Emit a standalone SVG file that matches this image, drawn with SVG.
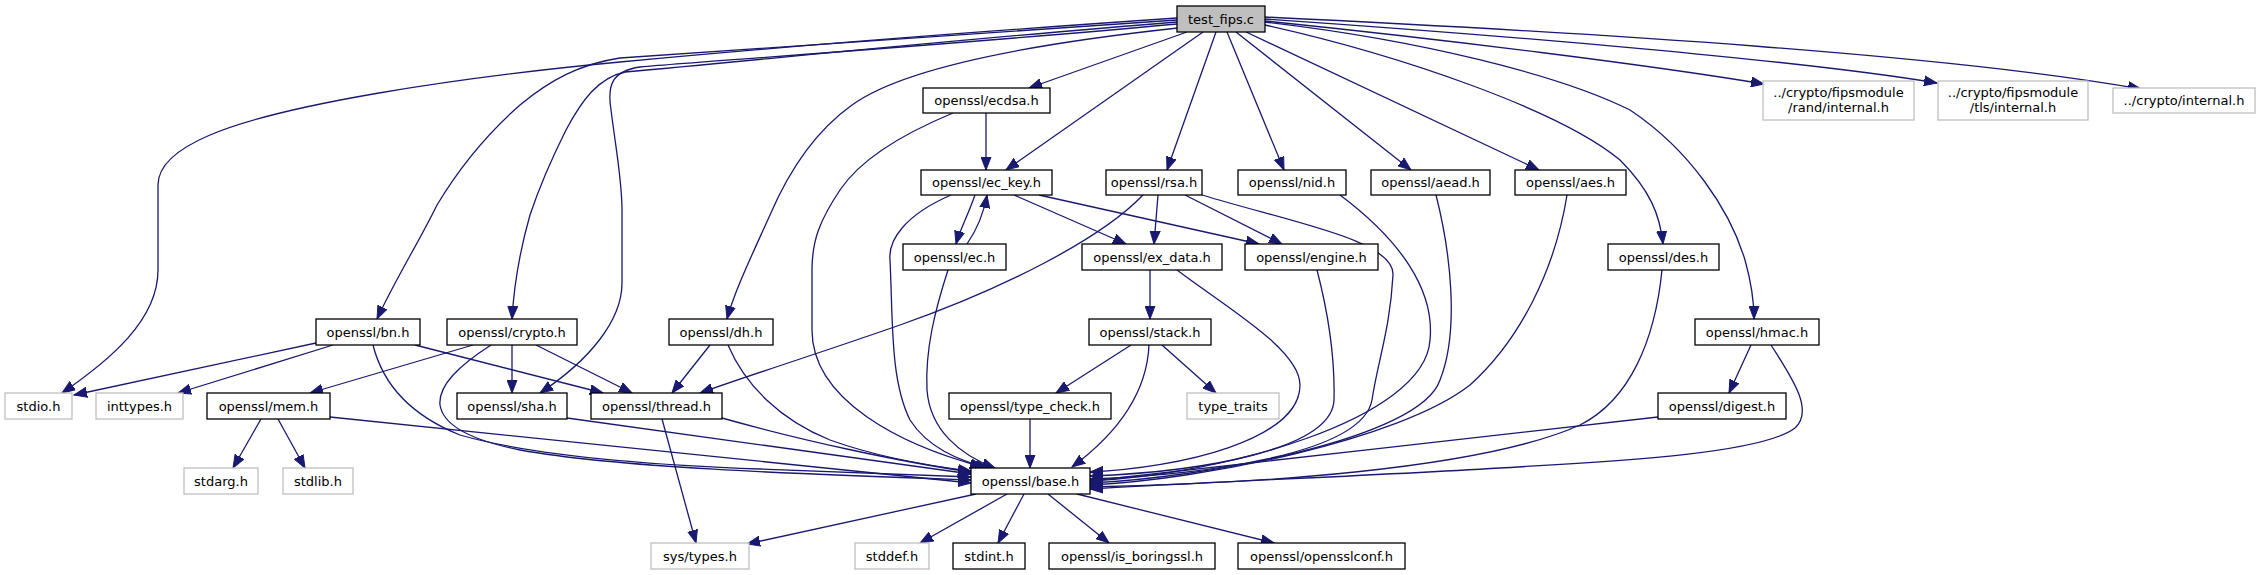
<svg xmlns="http://www.w3.org/2000/svg" width="2260" height="575" viewBox="0 0 2260 575">
<style>
.n rect{fill:#fff;stroke:#000;stroke-width:1.3}
.n.g rect{stroke:#bfbfbf}
.n.root rect{fill:#bfbfbf}
text{font-family:"DejaVu Sans","Liberation Sans",sans-serif;font-size:13px;text-anchor:middle;fill:#000}
#edges path{fill:none;stroke:#191970;stroke-width:1.3;marker-end:url(#arr)}
</style>
<defs>
<marker id="arr" markerUnits="userSpaceOnUse" markerWidth="14" markerHeight="11" viewBox="0 0 14 11" refX="13" refY="5.5" orient="auto">
<path d="M0,0.5 L13,5.5 L0,10.5 z" fill="#191970" stroke="#191970" stroke-width="1"/>
</marker>
</defs>
<rect width="2260" height="575" fill="#fff"/>
<g id="edges">
<!-- test_fips.c -->
<path d="M1177,18 C1000,30 800,45 620,62 C450,78 280,105 210,135 C170,152 158,170 158,185 L158,270 C158,320 110,360 62,393"/>
<path d="M1177,20 C950,35 760,48 620,58 C580,64 550,80 520,105 C480,140 452,180 437,205 C420,240 395,280 377,319"/>
<path d="M1177,22 C950,40 760,60 625,72 C598,78 582,100 566,130 C546,170 535,200 530,215 C520,250 514,285 512,319"/>
<path d="M1177,24 C950,45 720,60 640,67 C612,71 607,85 611,110 C616,150 622,180 622,210 L622,283 C622,320 590,360 540,393"/>
<path d="M1178,28 C1020,45 900,70 852,105 C810,135 785,180 770,215 C752,255 735,290 727,319"/>
<path d="M1187,32 L1029,88"/>
<path d="M1203,32 L1006,170"/>
<path d="M1216,32 L1167,170"/>
<path d="M1227,32 L1284,170"/>
<path d="M1236,32 L1411,170"/>
<path d="M1246,32 L1539,170"/>
<path d="M1265,25 C1400,55 1560,110 1620,160 C1650,190 1660,215 1663,244"/>
<path d="M1265,22 C1420,40 1560,75 1630,110 C1690,150 1730,210 1745,260 C1752,285 1754,300 1754,319"/>
<path d="M1265,21 C1450,40 1650,65 1764,84"/>
<path d="M1265,19 C1500,35 1800,60 1937,83"/>
<path d="M1265,17 C1600,33 1950,55 2141,89"/>
<!-- ecdsa -->
<path d="M986,113 L986,170"/>
<path d="M953,113 C900,135 860,160 840,190 C820,220 812,240 812,270 L812,330 C812,400 900,445 983,467"/>
<!-- ec_key -->
<path d="M975,195 C968,215 960,230 956,244"/>
<path d="M1014,195 L1126,244"/>
<path d="M1039,195 L1259,244"/>
<path d="M951,195 C905,215 888,240 890,260 C893,320 890,380 910,420 C928,448 958,460 988,468"/>
<!-- ec -->
<path d="M967,244 C978,228 984,212 987,195"/>
<path d="M948,270 C935,310 925,350 927,390 C930,430 960,455 995,468"/>
<!-- rsa -->
<path d="M1158,195 L1154,244"/>
<path d="M1185,195 L1282,244"/>
<path d="M1143,195 C1100,240 1000,290 900,325 C820,353 750,375 700,393"/>
<path d="M1202,195 C1290,222 1395,240 1393,275 C1390,330 1378,360 1372,400 C1362,455 1200,475 1090,479"/>
<!-- nid, aead, aes -->
<path d="M1340,195 C1400,240 1435,290 1430,340 C1425,420 1220,475 1090,481"/>
<path d="M1436,195 C1450,250 1460,330 1440,380 C1420,440 1200,478 1090,483"/>
<path d="M1567,195 C1555,270 1520,340 1470,385 C1400,440 1200,480 1090,485"/>
<!-- ex_data, engine, des -->
<path d="M1150,270 L1150,319"/>
<path d="M1177,270 C1230,310 1300,350 1300,385 C1300,440 1180,468 1090,472"/>
<path d="M1317,270 C1330,320 1335,360 1334,400 C1332,450 1200,472 1090,476"/>
<path d="M1662,270 C1655,340 1630,400 1580,425 C1480,470 1250,484 1090,487"/>
<!-- bn -->
<path d="M316,343 L74,395"/>
<path d="M333,345 L178,393"/>
<path d="M415,345 L603,393"/>
<path d="M373,345 C383,385 410,415 460,435 C540,458 680,466 760,469 C850,472 920,475 971,477"/>
<!-- crypto -->
<path d="M473,345 L310,393"/>
<path d="M512,345 L512,393"/>
<path d="M536,345 L632,393"/>
<path d="M491,345 C460,365 438,385 440,405 C443,425 470,440 520,450 C620,468 800,474 971,480"/>
<!-- dh -->
<path d="M710,345 L672,393"/>
<path d="M728,345 C745,385 780,420 830,440 C880,458 930,466 971,471"/>
<!-- stack -->
<path d="M1131,345 L1056,393"/>
<path d="M1162,345 L1216,393"/>
<path d="M1149,345 C1147,390 1122,430 1072,467"/>
<!-- hmac -->
<path d="M1751,345 L1729,393"/>
<path d="M1771,345 C1790,375 1815,410 1795,428 C1760,455 1600,462 1500,468 C1350,477 1200,482 1090,489"/>
<!-- row 5 -->
<path d="M261,419 L233,468"/>
<path d="M278,419 L305,468"/>
<path d="M330,417 L971,483"/>
<path d="M567,418 L971,474"/>
<path d="M662,419 L696,543"/>
<path d="M722,418 C800,440 900,462 971,472"/>
<path d="M1030,419 L1030,468"/>
<path d="M1658,417 C1500,436 1250,462 1090,481"/>
<!-- base -->
<path d="M976,494 L747,544"/>
<path d="M1007,494 L920,543"/>
<path d="M1024,494 L998,543"/>
<path d="M1048,494 L1109,543"/>
<path d="M1077,494 L1274,543"/>
</g>
<g id="n_test_fips" class="n root"><rect x="1177" y="6" width="88" height="26"/><text x="1221" y="23.5">test_fips.c</text></g>
<g id="n_ecdsa" class="n"><rect x="923" y="88" width="127" height="25"/><text x="986.5" y="105">openssl/ecdsa.h</text></g>
<g id="n_rand_internal" class="n g"><rect x="1763" y="81" width="151" height="39"/><text x="1838.5" y="97">../crypto/fipsmodule</text><text x="1838.5" y="112">/rand/internal.h</text></g>
<g id="n_tls_internal" class="n g"><rect x="1938" y="81" width="150" height="39"/><text x="2013" y="97">../crypto/fipsmodule</text><text x="2013" y="112">/tls/internal.h</text></g>
<g id="n_crypto_internal" class="n g"><rect x="2113" y="88" width="142" height="25"/><text x="2184" y="105">../crypto/internal.h</text></g>
<g id="n_ec_key" class="n"><rect x="921" y="170" width="131" height="25"/><text x="986.5" y="187">openssl/ec_key.h</text></g>
<g id="n_rsa" class="n"><rect x="1106" y="170" width="96" height="25"/><text x="1154" y="187">openssl/rsa.h</text></g>
<g id="n_nid" class="n"><rect x="1238" y="170" width="108" height="25"/><text x="1292" y="187">openssl/nid.h</text></g>
<g id="n_aead" class="n"><rect x="1371" y="170" width="119" height="25"/><text x="1430.5" y="187">openssl/aead.h</text></g>
<g id="n_aes" class="n"><rect x="1515" y="170" width="111" height="25"/><text x="1570.5" y="187">openssl/aes.h</text></g>
<g id="n_ec" class="n"><rect x="903" y="244" width="103" height="26"/><text x="954.5" y="261.5">openssl/ec.h</text></g>
<g id="n_ex_data" class="n"><rect x="1082" y="244" width="140" height="26"/><text x="1152" y="261.5">openssl/ex_data.h</text></g>
<g id="n_engine" class="n"><rect x="1245" y="244" width="133" height="26"/><text x="1311.5" y="261.5">openssl/engine.h</text></g>
<g id="n_des" class="n"><rect x="1608" y="244" width="111" height="26"/><text x="1663.5" y="261.5">openssl/des.h</text></g>
<g id="n_bn" class="n"><rect x="316" y="319" width="104" height="26"/><text x="368" y="336.5">openssl/bn.h</text></g>
<g id="n_crypto" class="n"><rect x="447" y="319" width="130" height="26"/><text x="512" y="336.5">openssl/crypto.h</text></g>
<g id="n_dh" class="n"><rect x="669" y="319" width="104" height="26"/><text x="721" y="336.5">openssl/dh.h</text></g>
<g id="n_stack" class="n"><rect x="1089" y="319" width="122" height="26"/><text x="1150" y="336.5">openssl/stack.h</text></g>
<g id="n_hmac" class="n"><rect x="1695" y="319" width="124" height="26"/><text x="1757" y="336.5">openssl/hmac.h</text></g>
<g id="n_stdio" class="n g"><rect x="5" y="393" width="67" height="26"/><text x="38.5" y="410.5">stdio.h</text></g>
<g id="n_inttypes" class="n g"><rect x="96" y="393" width="87" height="26"/><text x="139.5" y="410.5">inttypes.h</text></g>
<g id="n_mem" class="n"><rect x="207" y="393" width="123" height="26"/><text x="268.5" y="410.5">openssl/mem.h</text></g>
<g id="n_sha" class="n"><rect x="457" y="393" width="110" height="26"/><text x="512" y="410.5">openssl/sha.h</text></g>
<g id="n_thread" class="n"><rect x="591" y="393" width="131" height="26"/><text x="656.5" y="410.5">openssl/thread.h</text></g>
<g id="n_type_check" class="n"><rect x="949" y="393" width="162" height="26"/><text x="1030" y="410.5">openssl/type_check.h</text></g>
<g id="n_type_traits" class="n g"><rect x="1187" y="393" width="92" height="26"/><text x="1233" y="410.5">type_traits</text></g>
<g id="n_digest" class="n"><rect x="1658" y="393" width="128" height="26"/><text x="1722" y="410.5">openssl/digest.h</text></g>
<g id="n_stdarg" class="n g"><rect x="184" y="468" width="74" height="26"/><text x="221" y="485.5">stdarg.h</text></g>
<g id="n_stdlib" class="n g"><rect x="283" y="468" width="70" height="26"/><text x="318" y="485.5">stdlib.h</text></g>
<g id="n_base" class="n"><rect x="971" y="468" width="119" height="26"/><text x="1030.5" y="485.5">openssl/base.h</text></g>
<g id="n_sys_types" class="n g"><rect x="651" y="543" width="98" height="26"/><text x="700" y="560.5">sys/types.h</text></g>
<g id="n_stddef" class="n g"><rect x="855" y="543" width="74" height="26"/><text x="892" y="560.5">stddef.h</text></g>
<g id="n_stdint" class="n"><rect x="953" y="543" width="72" height="26"/><text x="989" y="560.5">stdint.h</text></g>
<g id="n_is_boringssl" class="n"><rect x="1049" y="543" width="166" height="26"/><text x="1132" y="560.5">openssl/is_boringssl.h</text></g>
<g id="n_opensslconf" class="n"><rect x="1238" y="543" width="167" height="26"/><text x="1321.5" y="560.5">openssl/opensslconf.h</text></g>
</svg>
